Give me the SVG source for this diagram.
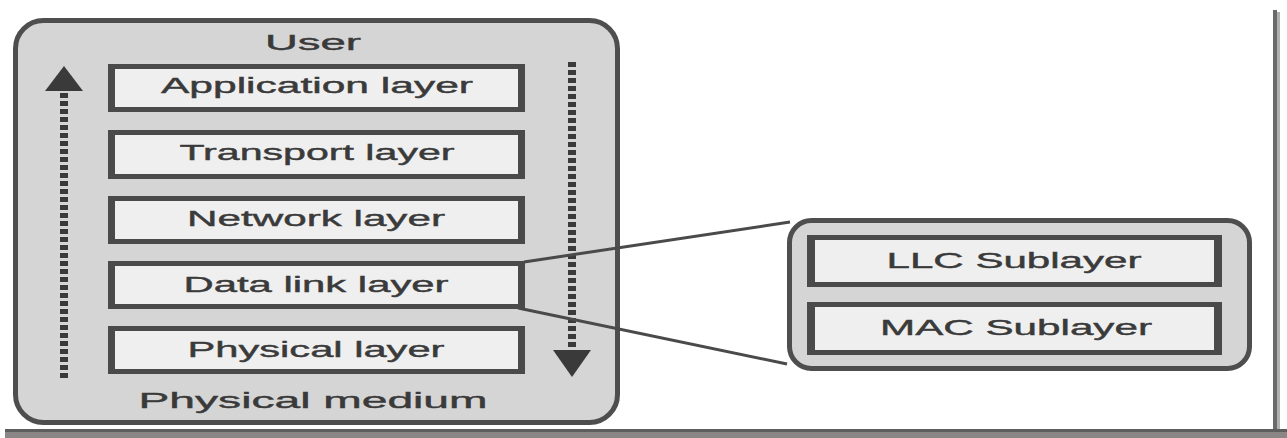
<svg xmlns="http://www.w3.org/2000/svg" width="1287" height="438" viewBox="0 0 1287 438">
  <style>
    .panel { fill: #d5d5d5; stroke: #4e4e4e; stroke-width: 5; }
    .edge { fill: #4a4a4a; }
    .face { fill: #efefef; }
    .label { font-family: "Liberation Sans", Arial, sans-serif; font-size: 22px; fill: #3a3a3a; stroke: #3a3a3a; stroke-width: 0.4; text-anchor: middle; }
    .dots { stroke: #3a3a3a; stroke-width: 8; stroke-dasharray: 5 3; fill: none; }
    .head { fill: #3a3a3a; }
    .link { stroke: #4a4a4a; stroke-width: 3; fill: none; }
  </style>

  <rect x="0" y="0" width="1287" height="438" fill="#ffffff"/>

  <!-- page frame shadow -->
  <g id="frame">
    <rect x="1273" y="10" width="4" height="422" fill="#6a6a6a"/>
    <rect x="1277" y="12" width="3" height="420" fill="#b0b0b0"/>
    <rect x="5" y="429" width="1282" height="3" fill="#5e5e5e"/>
    <rect x="5" y="432" width="1282" height="6" fill="#8b8686"/>
  </g>

  <!-- protocol stack -->
  <g id="stack">
    <rect class="panel" x="15.5" y="20.5" width="602" height="402" rx="28" ry="28"/>
    <text class="label" x="313" y="50" textLength="96" lengthAdjust="spacingAndGlyphs">User</text>
    <text class="label" x="313" y="408" font-size="23" textLength="349" lengthAdjust="spacingAndGlyphs">Physical medium</text>
  </g>

  <g id="application-layer">
    <rect class="edge" x="108" y="64" width="417" height="48"/>
    <rect class="face" x="115" y="69" width="403" height="38"/>
    <text class="label" x="317" y="93" textLength="312" lengthAdjust="spacingAndGlyphs">Application layer</text>
  </g>

  <g id="transport-layer">
    <rect class="edge" x="108" y="130" width="417" height="49"/>
    <rect class="face" x="115" y="135" width="403" height="39"/>
    <text class="label" x="317" y="160" textLength="275" lengthAdjust="spacingAndGlyphs">Transport layer</text>
  </g>

  <g id="network-layer">
    <rect class="edge" x="108" y="196" width="417" height="48"/>
    <rect class="face" x="115" y="201" width="403" height="38"/>
    <text class="label" x="316" y="226" textLength="258" lengthAdjust="spacingAndGlyphs">Network layer</text>
  </g>

  <g id="data-link-layer">
    <rect class="edge" x="108" y="261" width="417" height="48"/>
    <rect class="face" x="115" y="266" width="403" height="38"/>
    <text class="label" x="316" y="292" textLength="265" lengthAdjust="spacingAndGlyphs">Data link layer</text>
  </g>

  <g id="physical-layer">
    <rect class="edge" x="108" y="326" width="417" height="48"/>
    <rect class="face" x="115" y="331" width="403" height="38"/>
    <text class="label" x="316" y="357" textLength="257" lengthAdjust="spacingAndGlyphs">Physical layer</text>
  </g>

  <!-- data-link sublayers -->
  <g id="sublayers">
    <rect class="panel" x="789.5" y="220.5" width="460" height="148" rx="22" ry="22"/>
  </g>

  <g id="llc-sublayer">
    <rect class="edge" x="807" y="235" width="415" height="52"/>
    <rect class="face" x="815" y="240" width="399" height="42"/>
    <text class="label" x="1014" y="268" textLength="255" lengthAdjust="spacingAndGlyphs">LLC Sublayer</text>
  </g>

  <g id="mac-sublayer">
    <rect class="edge" x="807" y="302" width="415" height="53"/>
    <rect class="face" x="815" y="307" width="399" height="43"/>
    <text class="label" x="1016" y="335" textLength="272" lengthAdjust="spacingAndGlyphs">MAC Sublayer</text>
  </g>

  <!-- flow arrows and zoom connectors -->
  <g id="connectors">
    <line class="dots" x1="64" y1="378" x2="64" y2="89"/>
    <polygon class="head" points="64,66 45,91 83,91"/>
    <line class="dots" x1="572" y1="62" x2="572" y2="351"/>
    <polygon class="head" points="553,350 591,350 572,377"/>
    <line class="link" x1="524" y1="262" x2="790" y2="222"/>
    <line class="link" x1="518" y1="308" x2="787" y2="364"/>
  </g>
</svg>
